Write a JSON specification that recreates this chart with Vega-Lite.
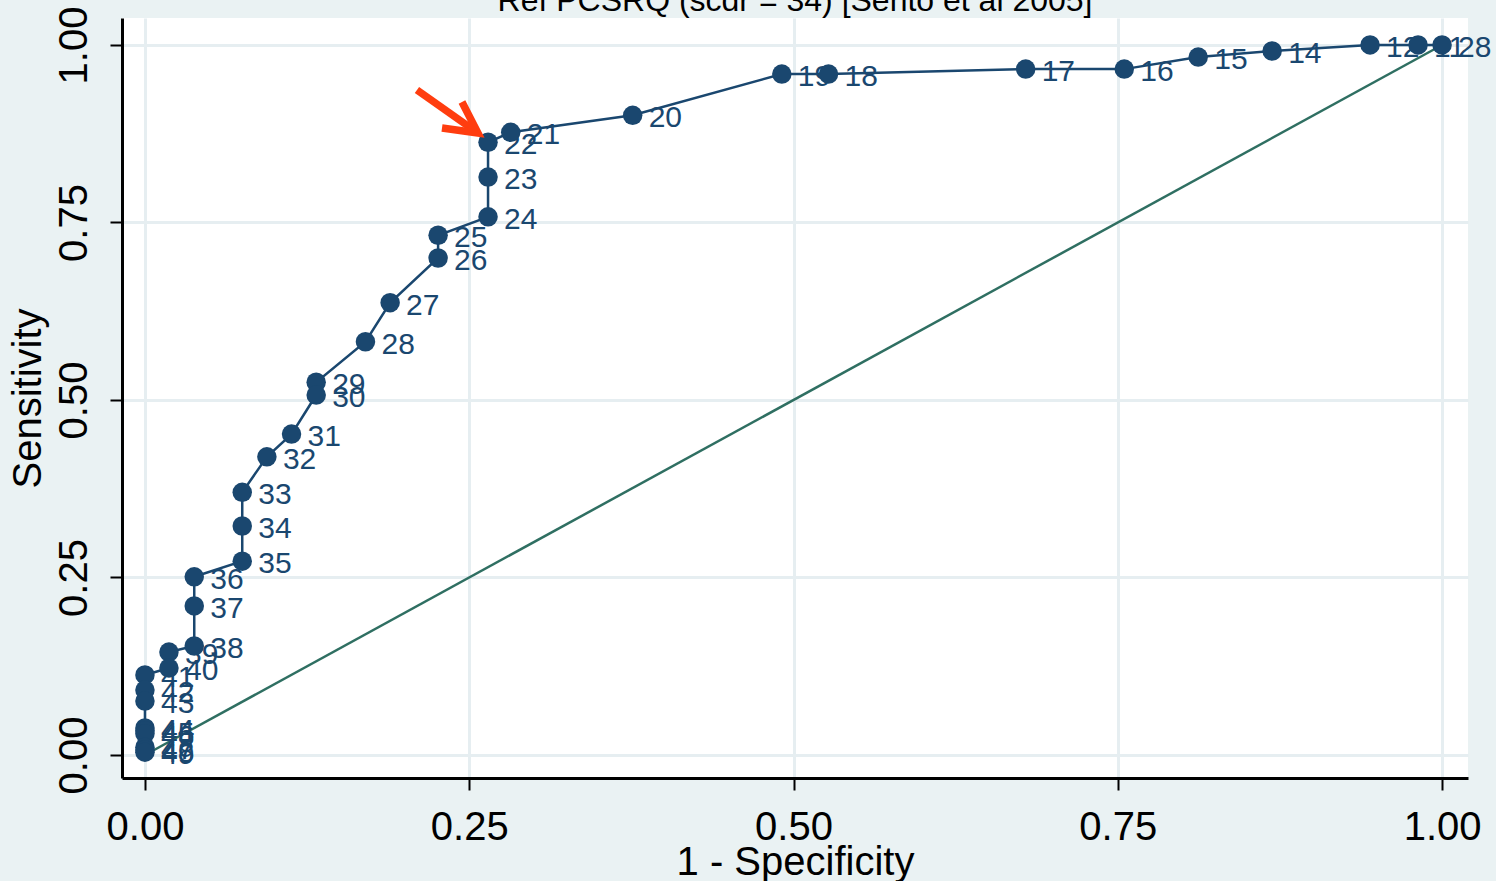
{
  "$schema": "https://vega.github.io/schema/vega-lite/v6.json",
  "autosize": "none",
  "width": 1346,
  "height": 760,
  "padding": {"left": 122, "top": 18, "right": 28, "bottom": 103},
  "background": "#eaf2f3",
  "view": {"fill": "white", "stroke": null},
  "title": {
    "text": "Ref PCSRQ (scdr = 34) [Sento et al 2005]",
    "font": "Liberation Sans",
    "fontSize": 32,
    "fontWeight": "normal",
    "color": "black",
    "anchor": "middle",
    "frame": "group",
    "baseline": "alphabetic",
    "offset": 3,
    "dy": 40
  },
  "datasets": {
    "roc": [
      {"cut": 10, "lab": "28", "fpr": 1.0, "sens": 1.0},
      {"cut": 11, "lab": "11", "fpr": 0.9815, "sens": 1.0},
      {"cut": 12, "lab": "12", "fpr": 0.9445, "sens": 1.0},
      {"cut": 14, "lab": "14", "fpr": 0.869, "sens": 0.9915},
      {"cut": 15, "lab": "15", "fpr": 0.812, "sens": 0.983},
      {"cut": 16, "lab": "16", "fpr": 0.755, "sens": 0.966},
      {"cut": 17, "lab": "17", "fpr": 0.679, "sens": 0.966},
      {"cut": 18, "lab": "18", "fpr": 0.527, "sens": 0.959},
      {"cut": 19, "lab": "19", "fpr": 0.491, "sens": 0.959},
      {"cut": 20, "lab": "20", "fpr": 0.376, "sens": 0.901},
      {"cut": 21, "lab": "21", "fpr": 0.282, "sens": 0.877},
      {"cut": 22, "lab": "22", "fpr": 0.2645, "sens": 0.863},
      {"cut": 23, "lab": "23", "fpr": 0.2645, "sens": 0.814},
      {"cut": 24, "lab": "24", "fpr": 0.2645, "sens": 0.758},
      {"cut": 25, "lab": "25", "fpr": 0.226, "sens": 0.732},
      {"cut": 26, "lab": "26", "fpr": 0.226, "sens": 0.7},
      {"cut": 27, "lab": "27", "fpr": 0.189, "sens": 0.637},
      {"cut": 28, "lab": "28", "fpr": 0.17, "sens": 0.582},
      {"cut": 29, "lab": "29", "fpr": 0.132, "sens": 0.525},
      {"cut": 30, "lab": "30", "fpr": 0.132, "sens": 0.507},
      {"cut": 31, "lab": "31", "fpr": 0.113, "sens": 0.452},
      {"cut": 32, "lab": "32", "fpr": 0.094, "sens": 0.42},
      {"cut": 33, "lab": "33", "fpr": 0.075, "sens": 0.37},
      {"cut": 34, "lab": "34", "fpr": 0.075, "sens": 0.3225},
      {"cut": 35, "lab": "35", "fpr": 0.075, "sens": 0.273},
      {"cut": 36, "lab": "36", "fpr": 0.038, "sens": 0.251},
      {"cut": 37, "lab": "37", "fpr": 0.038, "sens": 0.21},
      {"cut": 38, "lab": "38", "fpr": 0.038, "sens": 0.1535},
      {"cut": 39, "lab": "39", "fpr": 0.0185, "sens": 0.145},
      {"cut": 40, "lab": "40", "fpr": 0.0185, "sens": 0.1225},
      {"cut": 41, "lab": "41", "fpr": 0.0, "sens": 0.1127},
      {"cut": 42, "lab": "42", "fpr": 0.0, "sens": 0.0915},
      {"cut": 43, "lab": "43", "fpr": 0.0, "sens": 0.076},
      {"cut": 44, "lab": "44", "fpr": 0.0, "sens": 0.038},
      {"cut": 45, "lab": "45", "fpr": 0.0, "sens": 0.034},
      {"cut": 46, "lab": "46", "fpr": 0.0, "sens": 0.03},
      {"cut": 47, "lab": "47", "fpr": 0.0, "sens": 0.011},
      {"cut": 48, "lab": "48", "fpr": 0.0, "sens": 0.007},
      {"cut": 49, "lab": "49", "fpr": 0.0, "sens": 0.004}
    ],
    "diag": [
      {"fpr": 0, "sens": 0},
      {"fpr": 1, "sens": 1}
    ],
    "arrow": [
      {"part": "shaft", "ord": 1, "fpr": 0.2097, "sens": 0.9366},
      {"part": "shaft", "ord": 2, "fpr": 0.2567, "sens": 0.876},
      {"part": "barb", "ord": 1, "fpr": 0.2444, "sens": 0.9197},
      {"part": "barb", "ord": 2, "fpr": 0.2567, "sens": 0.876},
      {"part": "barb", "ord": 3, "fpr": 0.229, "sens": 0.8831}
    ]
  },
  "encoding": {
    "x": {
      "field": "fpr",
      "type": "quantitative",
      "scale": {"domain": [-0.0177, 1.02], "nice": false, "zero": false},
      "axis": {
        "title": "1 - Specificity",
        "values": [0, 0.25, 0.5, 0.75, 1],
        "format": ".2f",
        "labelFont": "Liberation Sans",
        "labelFontSize": 40,
        "labelColor": "black",
        "labelPadding": 17,
        "titleFont": "Liberation Sans",
        "titleFontSize": 40,
        "titleFontWeight": "normal",
        "titleColor": "black",
        "titlePadding": -5,
        "domainColor": "black",
        "domainWidth": 3,
        "tickColor": "black",
        "tickWidth": 2,
        "tickSize": 12,
        "gridColor": "#e6eef1",
        "gridWidth": 3,
        "gridOpacity": 1
      }
    },
    "y": {
      "field": "sens",
      "type": "quantitative",
      "scale": {"domain": [-0.0324, 1.038], "nice": false, "zero": false},
      "axis": {
        "title": "Sensitivity",
        "values": [0, 0.25, 0.5, 0.75, 1],
        "format": ".2f",
        "labelAngle": 270,
        "labelAlign": "center",
        "labelBaseline": "bottom",
        "labelFont": "Liberation Sans",
        "labelFontSize": 40,
        "labelColor": "black",
        "labelPadding": 16,
        "titleFont": "Liberation Sans",
        "titleFontSize": 40,
        "titleFontWeight": "normal",
        "titleColor": "black",
        "titlePadding": 6,
        "domainColor": "black",
        "domainWidth": 3,
        "tickColor": "black",
        "tickWidth": 2,
        "tickSize": 12,
        "gridColor": "#e6eef1",
        "gridWidth": 3,
        "gridOpacity": 1
      }
    }
  },
  "layer": [
    {
      "data": {"name": "diag"},
      "mark": {"type": "line", "color": "#2f6f62", "strokeWidth": 2.5}
    },
    {
      "data": {"name": "roc"},
      "mark": {"type": "line", "color": "#1a476f", "strokeWidth": 2.5},
      "encoding": {"order": {"field": "cut", "type": "quantitative"}}
    },
    {
      "data": {"name": "roc"},
      "mark": {"type": "point", "shape": "circle", "filled": true, "opacity": 1, "color": "#1a476f", "size": 380}
    },
    {
      "data": {"name": "roc"},
      "mark": {"type": "text", "align": "left", "baseline": "middle", "dx": 16, "dy": 3, "font": "Liberation Sans", "fontSize": 30, "color": "#1a476f"},
      "encoding": {"text": {"field": "lab", "type": "nominal"}}
    },
    {
      "data": {"name": "arrow"},
      "mark": {"type": "line", "color": "#ff3d0f", "strokeWidth": 7.5, "strokeCap": "butt", "strokeJoin": "miter"},
      "encoding": {
        "detail": {"field": "part", "type": "nominal"},
        "order": {"field": "ord", "type": "quantitative"}
      }
    }
  ]
}
